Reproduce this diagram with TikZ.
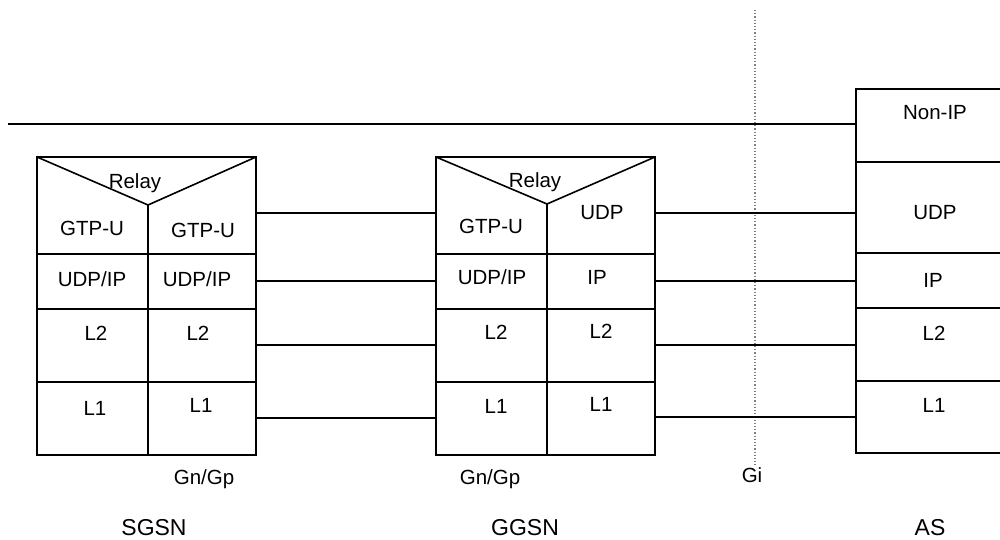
\documentclass[tikz,border=0pt]{standalone}
\usepackage{fontspec}
\setmainfont{Liberation Sans}
\begin{document}
\begin{tikzpicture}[x=1pt,y=-1pt,
  line width=1.6pt,
  cell/.style={draw, rectangle, inner sep=0pt, outer sep=0pt, anchor=north west},
  txt/.style={inner sep=0pt, font=\fontsize{20.5}{24}\selectfont, text height=14.7pt, text depth=0pt},
  big/.style={inner sep=0pt, font=\fontsize{23}{27}\selectfont, text height=16.5pt, text depth=0pt},
  link/.style={draw, line width=1.6pt},
  refline/.style={draw=gray, dotted, line width=1.2pt}]
\useasboundingbox (0,0) rectangle (1000,540);
\clip (0,0) rectangle (1000,540);

% reference point Gi
\coordinate (gitop) at (755,10);
\coordinate (gibot) at (755,465);
\draw[refline] (gitop) -- (gibot);

% SGSN
\node[cell, minimum width=219pt, minimum height=97pt] (s1) at (37,157) {};
\node[cell, minimum width=111pt, minimum height=55pt] (sA2) at (37,254) {};
\node[cell, minimum width=108pt, minimum height=55pt] (sB2) at (148,254) {};
\node[cell, minimum width=111pt, minimum height=73pt] (sA3) at (37,309) {};
\node[cell, minimum width=108pt, minimum height=73pt] (sB3) at (148,309) {};
\node[cell, minimum width=111pt, minimum height=73pt] (sA4) at (37,382) {};
\node[cell, minimum width=108pt, minimum height=73pt] (sB4) at (148,382) {};
\coordinate (sv) at (148,205);
\draw (s1.north west) -- (sv) -- (s1.north east);
\draw (sv) -- (sB2.north west);

% GGSN
\node[cell, minimum width=219pt, minimum height=97pt] (g1) at (436,157) {};
\node[cell, minimum width=111pt, minimum height=55pt] (gA2) at (436,254) {};
\node[cell, minimum width=108pt, minimum height=55pt] (gB2) at (547,254) {};
\node[cell, minimum width=111pt, minimum height=73pt] (gA3) at (436,309) {};
\node[cell, minimum width=108pt, minimum height=73pt] (gB3) at (547,309) {};
\node[cell, minimum width=111pt, minimum height=73pt] (gA4) at (436,382) {};
\node[cell, minimum width=108pt, minimum height=73pt] (gB4) at (547,382) {};
\coordinate (gv) at (547,204);
\draw (g1.north west) -- (gv) -- (g1.north east);
\draw (gv) -- (gB2.north west);

% AS
\node[cell, minimum width=160pt, minimum height=73pt] (a0) at (856,89) {};
\node[cell, minimum width=160pt, minimum height=91pt] (a1) at (856,162) {};
\node[cell, minimum width=160pt, minimum height=55pt] (a2) at (856,253) {};
\node[cell, minimum width=160pt, minimum height=73pt] (a3) at (856,308) {};
\node[cell, minimum width=160pt, minimum height=72pt] (a4) at (856,381) {};

% connectors
\coordinate (tl) at (8,124);
\draw[link] (tl) -- (a0.west |- tl);
\draw[link] (s1.east |- 0,213) -- (g1.west |- 0,213);
\draw[link] (sB2.east |- 0,281) -- (gA2.west |- 0,281);
\draw[link] (sB3.east |- 0,345) -- (gA3.west |- 0,345);
\draw[link] (sB4.east |- 0,418) -- (gA4.west |- 0,418);
\draw[link] (g1.east |- 0,213) -- (a1.west |- 0,213);
\draw[link] (gB2.east |- 0,281) -- (a2.west |- 0,281);
\draw[link] (gB3.east |- 0,345) -- (a3.west |- 0,345);
\draw[link] (gB4.east |- 0,417) -- (a4.west |- 0,417);

% SGSN texts
\node[txt] (tsr) at (135,181) {Relay};
\node[txt] (tsa1) at (92,228) {GTP-U};
\node[txt] (tsb1) at (203,230) {GTP-U};
\node[txt] (tsa2) at (92,279) {UDP/IP};
\node[txt] (tsb2) at (197,279) {UDP/IP};
\node[txt] (tsa3) at (96,333) {L2};
\node[txt] (tsb3) at (198,333) {L2};
\node[txt] (tsa4) at (95,408) {L1};
\node[txt] (tsb4) at (201,405) {L1};

% GGSN texts
\node[txt] (tgr) at (535,180) {Relay};
\node[txt] (tga1) at (491,226) {GTP-U};
\node[txt] (tgb1) at (602,212) {UDP};
\node[txt] (tga2) at (492,277) {UDP/IP};
\node[txt] (tgb2) at (597,277) {IP};
\node[txt] (tga3) at (496,332) {L2};
\node[txt] (tgb3) at (601,331) {L2};
\node[txt] (tga4) at (496,406) {L1};
\node[txt] (tgb4) at (601,404) {L1};

% AS texts
\node[txt] (ta0) at (935,112) {Non-IP};
\node[txt] (ta1) at (935,212) {UDP};
\node[txt] (ta2) at (933,280) {IP};
\node[txt] (ta3) at (934,333) {L2};
\node[txt] (ta4) at (934,405) {L1};

% interface labels
\node[txt] (lgn1) at (204,477) {Gn/Gp};
\node[txt] (lgn2) at (490,477) {Gn/Gp};
\node[txt] (lgi) at (752,475) {Gi};

% node names
\node[big] (nsgsn) at (154,527) {SGSN};
\node[big] (nggsn) at (525,527) {GGSN};
\node[big] (nas) at (930,527) {AS};
\end{tikzpicture}
\end{document}
